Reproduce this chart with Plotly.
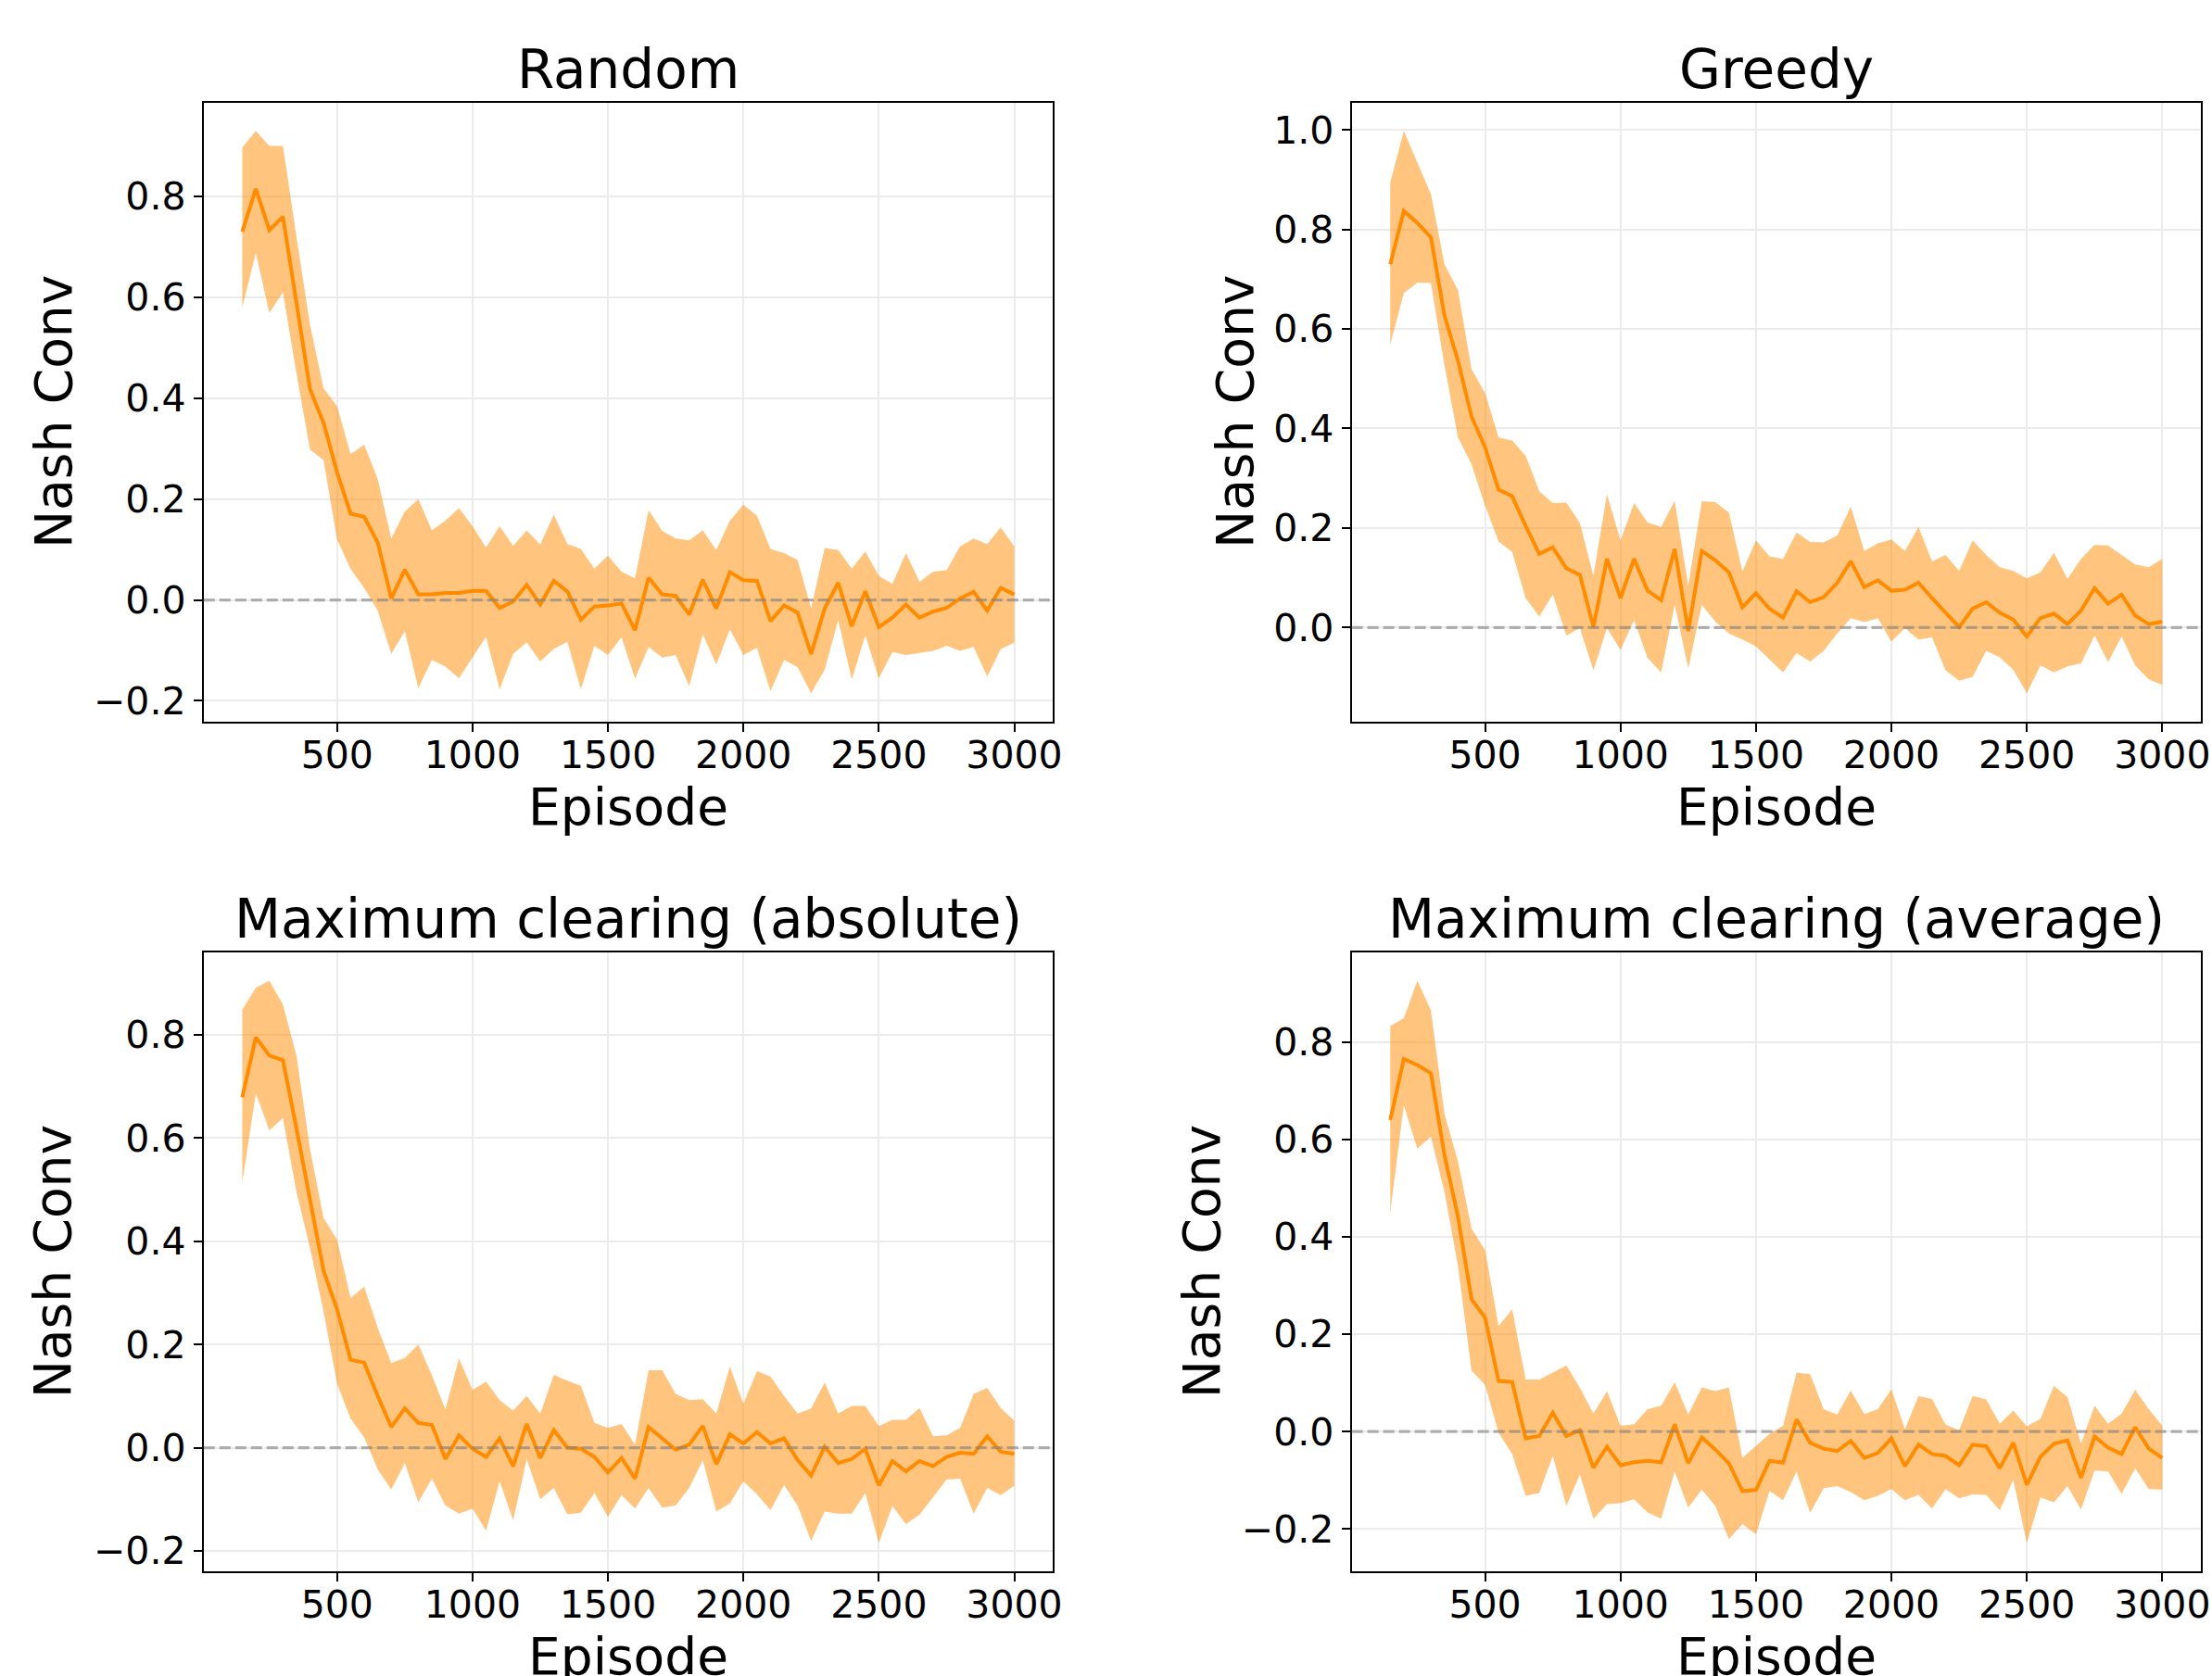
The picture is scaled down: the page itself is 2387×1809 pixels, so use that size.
import plotly.graph_objects as go

W, H = 2387, 1809
FIG_W = 2398  # capture compresses the page horizontally by ~2387/2398

episodes = [150, 200, 250, 300, 350, 400, 450, 500, 550, 600, 650, 700, 750, 800, 850, 900,
            950, 1000, 1050, 1100, 1150, 1200, 1250, 1300, 1350, 1400, 1450, 1500, 1550, 1600,
            1650, 1700, 1750, 1800, 1850, 1900, 1950, 2000, 2050, 2100, 2150, 2200, 2250, 2300,
            2350, 2400, 2450, 2500, 2550, 2600, 2650, 2700, 2750, 2800, 2850, 2900, 2950, 3000]

titles = ["Random", "Greedy", "Maximum clearing (absolute)", "Maximum clearing (average)"]

random_mean = [0.73, 0.815, 0.733, 0.76, 0.589, 0.418, 0.351, 0.253, 0.171, 0.165,
               0.114, 0.003, 0.06, 0.011, 0.011, 0.014, 0.014, 0.018, 0.018, -0.016,
               -0.003, 0.03, -0.009, 0.038, 0.017, -0.039, -0.013, -0.011, -0.007, -0.06,
               0.044, 0.011, 0.008, -0.029, 0.04, -0.017, 0.055, 0.039, 0.038, -0.042,
               -0.011, -0.025, -0.107, -0.017, 0.034, -0.052, 0.017, -0.054, -0.035, -0.009,
               -0.035, -0.023, -0.016, 0.003, 0.016, -0.021, 0.024, 0.011]
random_upper = [0.897, 0.93, 0.90, 0.90, 0.72, 0.545, 0.42, 0.384, 0.289, 0.308,
                0.24, 0.122, 0.175, 0.2, 0.138, 0.157, 0.182, 0.146, 0.104, 0.146,
                0.107, 0.138, 0.11, 0.169, 0.111, 0.101, 0.062, 0.088, 0.056, 0.043,
                0.178, 0.137, 0.122, 0.118, 0.138, 0.099, 0.157, 0.189, 0.167, 0.101,
                0.093, 0.079, -0.016, 0.103, 0.099, 0.062, 0.096, 0.048, 0.032, 0.093,
                0.036, 0.056, 0.059, 0.106, 0.122, 0.111, 0.144, 0.106]
random_lower = [0.58, 0.688, 0.569, 0.61, 0.449, 0.298, 0.277, 0.12, 0.061, 0.024,
                -0.021, -0.107, -0.062, -0.175, -0.119, -0.132, -0.155, -0.115, -0.073, -0.177,
                -0.107, -0.084, -0.122, -0.097, -0.083, -0.177, -0.091, -0.109, -0.074, -0.156,
                -0.093, -0.114, -0.109, -0.171, -0.068, -0.128, -0.058, -0.109, -0.095, -0.181,
                -0.119, -0.133, -0.185, -0.138, -0.04, -0.158, -0.07, -0.155, -0.103, -0.109,
                -0.105, -0.101, -0.091, -0.101, -0.093, -0.152, -0.097, -0.085]

greedy_mean = [0.73, 0.837, 0.813, 0.784, 0.627, 0.536, 0.424, 0.362, 0.277, 0.264,
               0.204, 0.148, 0.161, 0.119, 0.106, 0.001, 0.138, 0.059, 0.138, 0.074,
               0.055, 0.158, -0.007, 0.154, 0.135, 0.111, 0.041, 0.069, 0.038, 0.02,
               0.073, 0.051, 0.061, 0.09, 0.133, 0.081, 0.095, 0.074, 0.076, 0.09,
               0.059, 0.03, 0.001, 0.038, 0.051, 0.03, 0.016, -0.018, 0.019, 0.028,
               0.007, 0.034, 0.079, 0.048, 0.066, 0.024, 0.007, 0.012]
greedy_upper = [0.894, 0.998, 0.934, 0.871, 0.73, 0.678, 0.519, 0.471, 0.382, 0.376,
                0.345, 0.274, 0.25, 0.251, 0.21, 0.104, 0.268, 0.175, 0.25, 0.211,
                0.202, 0.255, 0.084, 0.254, 0.252, 0.231, 0.113, 0.175, 0.143, 0.138,
                0.191, 0.172, 0.171, 0.185, 0.243, 0.154, 0.169, 0.177, 0.154, 0.202,
                0.133, 0.146, 0.114, 0.175, 0.146, 0.121, 0.114, 0.099, 0.111, 0.15,
                0.098, 0.138, 0.166, 0.165, 0.146, 0.127, 0.121, 0.138]
greedy_lower = [0.569, 0.672, 0.693, 0.692, 0.527, 0.382, 0.328, 0.245, 0.173, 0.152,
                0.059, 0.022, 0.067, -0.016, -0.001, -0.086, -0.001, -0.045, 0.015, -0.061,
                -0.09, 0.046, -0.082, 0.046, 0.012, -0.012, -0.024, -0.038, -0.064, -0.09,
                -0.051, -0.068, -0.047, -0.012, 0.019, 0.011, 0.019, -0.028, -0.001, -0.024,
                -0.02, -0.086, -0.107, -0.099, -0.047, -0.06, -0.085, -0.132, -0.076, -0.09,
                -0.078, -0.072, -0.016, -0.069, -0.018, -0.076, -0.104, -0.115]

absolute_mean = [0.679, 0.795, 0.76, 0.751, 0.619, 0.481, 0.343, 0.268, 0.17, 0.165,
                 0.1, 0.04, 0.076, 0.048, 0.044, -0.022, 0.024, -0.002, -0.018, 0.018,
                 -0.036, 0.046, -0.02, 0.034, 0.0, -0.002, -0.018, -0.048, -0.02, -0.06,
                 0.04, 0.018, -0.004, 0.006, 0.042, -0.032, 0.026, 0.008, 0.03, 0.008,
                 0.018, -0.024, -0.054, 0.002, -0.03, -0.022, -0.002, -0.073, -0.026, -0.046,
                 -0.026, -0.036, -0.018, -0.01, -0.012, 0.022, -0.008, -0.012]
absolute_upper = [0.849, 0.891, 0.905, 0.859, 0.76, 0.579, 0.445, 0.403, 0.29, 0.312,
                  0.232, 0.164, 0.174, 0.2, 0.14, 0.074, 0.173, 0.112, 0.128, 0.092,
                  0.072, 0.1, 0.066, 0.141, 0.13, 0.12, 0.048, 0.038, 0.046, 0.006,
                  0.15, 0.15, 0.104, 0.092, 0.094, 0.066, 0.157, 0.085, 0.148, 0.138,
                  0.1, 0.066, 0.076, 0.126, 0.066, 0.081, 0.081, 0.042, 0.054, 0.054,
                  0.077, 0.022, 0.024, 0.038, 0.104, 0.116, 0.077, 0.052]
absolute_lower = [0.514, 0.687, 0.615, 0.639, 0.495, 0.387, 0.264, 0.124, 0.056, 0.02,
                  -0.042, -0.081, -0.03, -0.106, -0.06, -0.112, -0.128, -0.118, -0.161, -0.065,
                  -0.141, -0.022, -0.1, -0.078, -0.129, -0.126, -0.088, -0.134, -0.092, -0.118,
                  -0.078, -0.116, -0.112, -0.078, -0.024, -0.124, -0.108, -0.065, -0.09, -0.121,
                  -0.072, -0.112, -0.181, -0.124, -0.128, -0.128, -0.088, -0.185, -0.113, -0.148,
                  -0.13, -0.096, -0.062, -0.06, -0.128, -0.078, -0.092, -0.074]

average_mean = [0.64, 0.765, 0.753, 0.736, 0.568, 0.441, 0.272, 0.234, 0.104, 0.102,
                -0.014, -0.009, 0.039, -0.009, 0.003, -0.074, -0.031, -0.069, -0.063, -0.06,
                -0.063, 0.015, -0.065, -0.012, -0.037, -0.065, -0.122, -0.12, -0.06, -0.064,
                0.025, -0.023, -0.035, -0.04, -0.019, -0.054, -0.044, -0.014, -0.071, -0.027,
                -0.046, -0.05, -0.069, -0.027, -0.03, -0.075, -0.023, -0.109, -0.052, -0.025,
                -0.018, -0.095, -0.01, -0.033, -0.046, 0.009, -0.035, -0.054]
average_upper = [0.833, 0.849, 0.926, 0.865, 0.653, 0.555, 0.417, 0.373, 0.217, 0.251,
                 0.107, 0.107, 0.121, 0.136, 0.09, 0.037, 0.083, 0.012, 0.015, 0.046,
                 0.053, 0.101, 0.035, 0.091, 0.083, 0.091, -0.054, -0.029, -0.005, 0.012,
                 0.121, 0.118, 0.046, 0.035, 0.084, 0.036, 0.046, 0.087, 0.005, 0.073,
                 0.067, 0.014, 0.003, 0.073, 0.066, 0.016, 0.043, 0.011, 0.026, 0.094,
                 0.071, -0.025, 0.053, 0.016, 0.037, 0.086, 0.046, 0.012]
average_lower = [0.45, 0.67, 0.581, 0.606, 0.492, 0.34, 0.125, 0.096, -0.003, -0.046,
                 -0.132, -0.126, -0.05, -0.153, -0.088, -0.179, -0.149, -0.147, -0.139, -0.166,
                 -0.179, -0.082, -0.156, -0.119, -0.153, -0.221, -0.19, -0.211, -0.122, -0.141,
                 -0.082, -0.167, -0.116, -0.112, -0.124, -0.141, -0.132, -0.118, -0.141, -0.13,
                 -0.158, -0.118, -0.137, -0.129, -0.13, -0.162, -0.099, -0.229, -0.135, -0.145,
                 -0.112, -0.16, -0.08, -0.082, -0.128, -0.075, -0.118, -0.119]

x_ticks = [500, 1000, 1500, 2000, 2500, 3000]
y_ticks = [-0.2, 0.0, 0.2, 0.4, 0.6, 0.8, 1.0]
x_label = "Episode"
y_label = "Nash Conv"

series = [
    (random_mean, random_upper, random_lower),
    (greedy_mean, greedy_upper, greedy_lower),
    (absolute_mean, absolute_upper, absolute_lower),
    (average_mean, average_upper, average_lower),
]

# pixel boxes of each axes in the target image (left, right, top, bottom)
boxes = [
    (219.7, 1135.7, 111.0, 779.5),
    (1458.0, 2374.0, 111.0, 779.5),
    (219.7, 1135.7, 1029.3, 1697.8),
    (1458.0, 2374.0, 1029.3, 1697.8),
]
ylabel_x = [57.3, 1331.7, 57.3, 1296.7]


def px_x(v):
    return v / W


def px_y(v):
    return 1 - v / H


FONT = "DejaVu Sans"
LINE = "#ff8c00"
FILL = "rgba(255,140,0,0.5)"

fig = go.Figure()
annotations = []
shapes = []
layout_axes = {}

xspan = episodes[-1] - episodes[0]
xr = [episodes[0] - 0.05 * xspan, episodes[-1] + 0.05 * xspan]

for i, ((mean, up, lo), (l, r, t, b)) in enumerate(zip(series, boxes)):
    n = i + 1
    xa = "x" if n == 1 else f"x{n}"
    ya = "y" if n == 1 else f"y{n}"
    hi_v = max(up)
    lo_v = min(lo)
    pad = 0.05 * (hi_v - lo_v)
    yr = [lo_v - pad, hi_v + pad]

    fig.add_trace(go.Scatter(x=episodes, y=up, mode="lines", line=dict(width=0, color=FILL),
                             xaxis=xa, yaxis=ya, showlegend=False, hoverinfo="skip"))
    fig.add_trace(go.Scatter(x=episodes, y=lo, mode="lines", line=dict(width=0, color=FILL),
                             fill="tonexty", fillcolor=FILL,
                             xaxis=xa, yaxis=ya, showlegend=False, hoverinfo="skip"))
    fig.add_trace(go.Scatter(x=episodes, y=mean, mode="lines", line=dict(width=4, color=LINE),
                             xaxis=xa, yaxis=ya, showlegend=False))

    axcommon = dict(showline=True, mirror=True, linecolor="black", linewidth=2,
                    ticks="outside", ticklen=9, tickwidth=2, tickcolor="black",
                    showgrid=True, gridcolor="#ebebeb", gridwidth=2, zeroline=False,
                    tickfont=dict(family=FONT, size=41, color="black"))
    xkey = "xaxis" if n == 1 else f"xaxis{n}"
    ykey = "yaxis" if n == 1 else f"yaxis{n}"
    layout_axes[xkey] = dict(domain=[px_x(l), px_x(r)], range=xr, tickvals=x_ticks,
                             ticktext=[str(v) for v in x_ticks], anchor=ya,
                             ticklabelstandoff=-10, **axcommon)
    yt = [v for v in y_ticks if yr[0] <= v <= yr[1]]
    layout_axes[ykey] = dict(domain=[px_y(b), px_y(t)], range=yr, tickvals=yt,
                             ticktext=[f"{v:.1f}".replace("-", "\u2212") for v in yt],
                             anchor=xa, ticklabelstandoff=0, **axcommon)

    shapes.append(dict(type="line", xref=f"{xa} domain", yref=ya, x0=0, x1=1, y0=0, y1=0,
                       line=dict(color="rgba(128,128,128,0.6)", width=3.3, dash="12px,5px"),
                       layer="above"))

    cx = px_x((l + r) / 2)
    annotations.append(dict(text=titles[i], x=cx, y=px_y(t - 36), xref="paper", yref="paper",
                            xanchor="center", yanchor="middle", showarrow=False,
                            font=dict(family=FONT, size=58, color="black")))
    annotations.append(dict(text=x_label, x=cx, y=px_y(b + 92), xref="paper", yref="paper",
                            xanchor="center", yanchor="middle", showarrow=False,
                            font=dict(family=FONT, size=55, color="black")))
    annotations.append(dict(text=y_label, x=px_x(ylabel_x[i]), y=px_y((t + b) / 2),
                            xref="paper", yref="paper", xanchor="center", yanchor="middle",
                            textangle=-90, showarrow=False,
                            font=dict(family=FONT, size=55, color="black")))

fig.update_layout(width=FIG_W, height=H, margin=dict(l=0, r=0, t=0, b=0),
                  paper_bgcolor="white", plot_bgcolor="white",
                  annotations=annotations, shapes=shapes, showlegend=False,
                  font=dict(family=FONT, color="black"), **layout_axes)

fig.write_html("out.html", config={"displayModeBar": False},
               post_script="document.body.style.margin='0';document.body.style.overflow='hidden';")
